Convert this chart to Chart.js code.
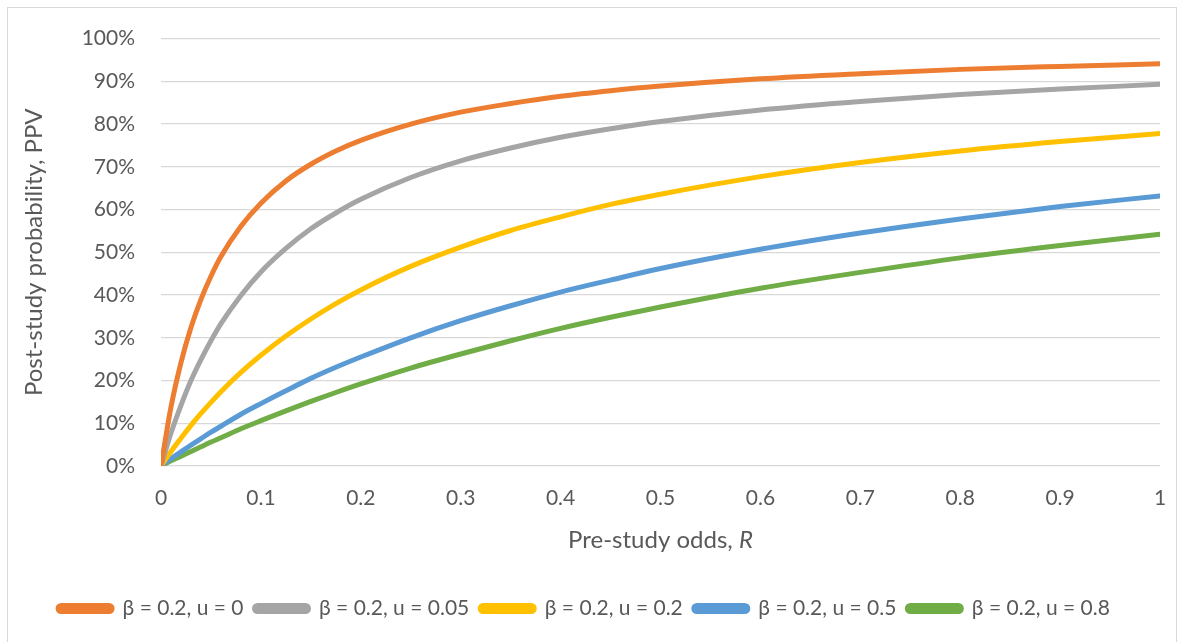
<!DOCTYPE html>
<html>
<head>
<meta charset="utf-8">
<script src="https://cdn.jsdelivr.net/npm/chart.js@4/dist/chart.umd.min.js"></script>
<style>
  body { margin: 0; background: #fff; }
  #wrap { position: relative; width: 1183px; height: 642px; }
</style>
</head>
<body>
<div id="wrap"><canvas id="myChart"></canvas></div>
<script>
// pre-study odds R (x axis)
let odds = [0, 0.01, 0.02, 0.03, 0.04, 0.05, 0.06, 0.08, 0.1, 0.125, 0.15, 0.175,
  0.2, 0.25, 0.3, 0.35, 0.4, 0.45, 0.5, 0.6, 0.7, 0.8, 0.9, 1];

// PPV in %
let ppvU0 = [0, 13.8, 24.2, 32.4, 39, 44.4, 49, 56.1, 61.5, 66.7, 70.6, 73.7,
  76.2, 80, 82.8, 84.8, 86.5, 87.8, 88.9, 90.6, 91.8, 92.8, 93.5, 94.1];
let ppvU005 = [0, 7.7, 14.2, 20, 24.9, 29.3, 33.3, 39.9, 45.4, 50.9, 55.5, 59.2,
  62.4, 67.5, 71.4, 74.4, 76.9, 78.9, 80.6, 83.3, 85.3, 86.9, 88.2, 89.3];
let ppvU02 = [0, 3.4, 6.5, 9.5, 12.3, 14.9, 17.4, 21.9, 25.9, 30.4, 34.4, 38,
  41.2, 46.7, 51.2, 55.1, 58.3, 61.2, 63.6, 67.7, 71, 73.7, 75.9, 77.8];
let ppvU05 = [0, 1.7, 3.3, 4.9, 6.4, 7.9, 9.3, 12.1, 14.6, 17.6, 20.5, 23.1,
  25.5, 30, 34, 37.5, 40.7, 43.5, 46.2, 50.7, 54.5, 57.8, 60.7, 63.2];
let ppvU08 = [0, 1.2, 2.3, 3.4, 4.5, 5.6, 6.6, 8.7, 10.6, 12.9, 15.1, 17.2,
  19.2, 22.9, 26.2, 29.3, 32.2, 34.8, 37.2, 41.6, 45.3, 48.7, 51.6, 54.2];

let seriesLabels = ["β = 0.2, u = 0", "β = 0.2, u = 0.05", "β = 0.2, u = 0.2",
  "β = 0.2, u = 0.5", "β = 0.2, u = 0.8"];
let seriesColors = ["#ED7D31", "#A5A5A5", "#FFC000", "#5B9BD5", "#70AD47"];
let seriesValues = [ppvU0, ppvU005, ppvU02, ppvU05, ppvU08];

let xTitle = "Pre-study odds, ";
let xTitleItalic = "R";
let yTitle = "Post-study probability, PPV";

const FONT = "Lato, 'Liberation Sans', sans-serif";
const TEXT = "#595959";

let datasets = seriesValues.map((vals, i) => {
  return {
    label: seriesLabels[i],
    data: odds.map((r, j) => ({ x: r, y: vals[j] })),
    borderColor: seriesColors[i],
    backgroundColor: seriesColors[i],
    borderWidth: 5,
    borderCapStyle: "round",
    borderJoinStyle: "round",
    pointRadius: 0,
    cubicInterpolationMode: "monotone",
    fill: false
  };
});

// frame, axis titles
let extras = {
  id: "extras",
  beforeDraw(chart) {
    let ctx = chart.ctx;
    ctx.save();
    ctx.strokeStyle = "#d9d9d9";
    ctx.lineWidth = 1;
    ctx.strokeRect(7.5, 7.5, 1169, 700);
    ctx.restore();
  },
  afterDraw(chart) {
    let ctx = chart.ctx;
    let area = chart.chartArea;
    ctx.save();
    ctx.fillStyle = TEXT;
    ctx.textBaseline = "middle";

    // x title with italic R
    ctx.font = "24px " + FONT;
    let w1 = ctx.measureText(xTitle).width;
    ctx.font = "italic 24px " + FONT;
    let w2 = ctx.measureText(xTitleItalic).width;
    let cx = (area.left + area.right) / 2;
    let start = cx - (w1 + w2) / 2;
    ctx.textAlign = "left";
    ctx.font = "24px " + FONT;
    ctx.fillText(xTitle, start, 540);
    ctx.font = "italic 24px " + FONT;
    ctx.fillText(xTitleItalic, start + w1, 540);

    // y title
    ctx.translate(34, (area.top + area.bottom) / 2);
    ctx.rotate(-Math.PI / 2);
    ctx.textAlign = "center";
    ctx.font = "24px " + FONT;
    ctx.fillText(yTitle, 0, 0);
    ctx.restore();
  }
};

let ctx = document.getElementById("myChart").getContext("2d");

let myChart = new Chart(ctx, {
  type: "line",
  data: { datasets },
  options: {
    responsive: true,
    maintainAspectRatio: false,
    animation: false,
    layout: { padding: { left: 8, top: 37, right: 23, bottom: 13 } },
    scales: {
      x: {
        type: "linear",
        min: 0,
        max: 1,
        grid: { display: false },
        border: { display: false },
        ticks: {
          stepSize: 0.1,
          color: TEXT,
          font: { family: FONT, size: 21 },
          padding: 12,
          maxRotation: 0,
          callback: v => String(Math.round(v * 10) / 10)
        },
        afterFit: scale => { scale.height = 121; }
      },
      y: {
        min: 0,
        max: 100,
        grid: { color: "#d9d9d9", lineWidth: 1.3, drawTicks: false },
        border: { display: false },
        ticks: {
          stepSize: 10,
          color: TEXT,
          font: { family: FONT, size: 21 },
          padding: 26,
          callback: v => v + "%"
        },
        afterFit: scale => { scale.width = 153; }
      }
    },
    plugins: {
      legend: {
        position: "bottom",
        labels: {
          color: TEXT,
          font: { family: FONT, size: 21 },
          boxWidth: 54,
          boxHeight: 6,
          useBorderRadius: true,
          borderRadius: 3,
          padding: 11
        }
      },
      tooltip: { enabled: false }
    }
  },
  plugins: [extras]
});
</script>
</body>
</html>
